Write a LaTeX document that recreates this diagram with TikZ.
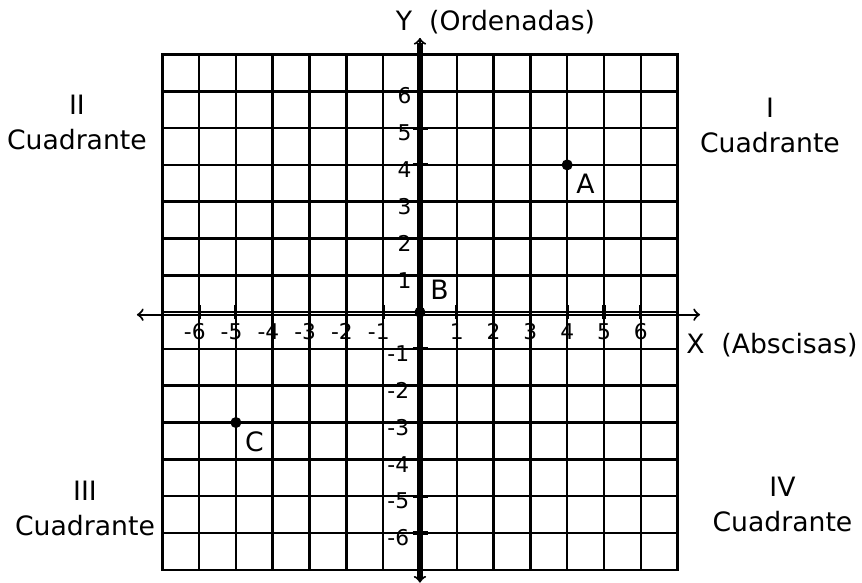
\documentclass[tikz,border=0pt]{standalone}
\usepackage{fontspec}
\setmainfont{DejaVu Sans}

\begin{document}
\begin{tikzpicture}[x=0.5cm,y=0.5cm,>=to,
  every node/.style={font=\fontsize{10.3}{13.5}\selectfont},
  ticklab/.style={font=\fontsize{8.4}{9}\selectfont,inner sep=0pt}]
\useasboundingbox (-11.41,-7.34) rectangle (12.01,8.48);

\draw[line width=0.95pt,step=0.5cm] (-7,-7) grid (7,7);
\draw[line width=0.95pt] (-7,-7) rectangle (7,7);

\coordinate (xl) at (-7.69,-0.07);
\coordinate (xr) at (7.61,-0.07);
\coordinate (yb) at (0,-7.35);
\coordinate (yt) at (0,7.45);

\draw [<->, line width=0.8pt] (xl)--(xr);
\draw [line width=2.3pt] (0,-7.25)--(0,7.3);
\draw [<->, line width=0.8pt] (yb)--(yt);

\foreach \i in {1,...,6} {
  \draw[line width=1.2pt] (\i,-0.2)--(\i,0.2);
  \draw[line width=1.2pt] (-\i,-0.2)--(-\i,0.2);
  \draw[line width=1.2pt] (-0.2,\i)--(0.22,\i);
  \draw[line width=1.2pt] (-0.2,-\i)--(0.22,-\i);
  \node[ticklab,anchor=north] (xp\i) at (\i,-0.3) {\i};
  \node[ticklab,anchor=north east] (xn\i) at (-\i+0.19,-0.3) {-\i};
  \node[ticklab,anchor=east] (yp\i) at (-0.22,\i-0.13) {\i};
  \node[ticklab,anchor=east] (yn\i) at (-0.28,-\i-0.13) {-\i};
}

\node[anchor=west] (ylab) at (-0.9,7.88) {Y\ \ (Ordenadas)};
\node[anchor=east,inner sep=1pt] (xlab) at (11.97,-0.9) {X\ \ (Abscisas)};

\node[align=center] (q1) at (9.51,5.08) {I\\Cuadrante};
\node[align=center] (q2) at (-9.32,5.16) {II\\Cuadrante};
\node[align=center] (q3) at (-9.10,-5.33) {III\\Cuadrante};
\node[align=center] (q4) at (9.85,-5.22) {IV\\Cuadrante};

\coordinate (A) at (4,4);
\coordinate (B) at (0,0);
\coordinate (C) at (-5,-3);
\fill (A) circle (0.15);
\fill (B) circle (0.15);
\fill (C) circle (0.15);
\node[below right] (alab) at (A) {A};
\node[above right,xshift=0.5pt,yshift=1.5pt] (blab) at (B) {B};
\node[below right] (clab) at (C) {C};

\end{tikzpicture}
\end{document}
